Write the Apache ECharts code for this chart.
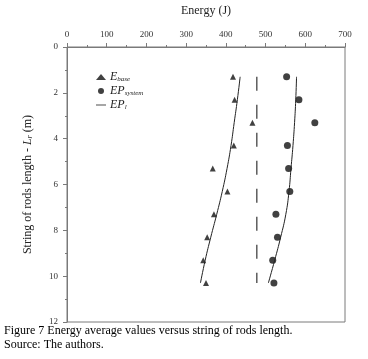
<!DOCTYPE html>
<html>
<head>
<meta charset="utf-8">
<script src="https://cdn.jsdelivr.net/npm/echarts@6/dist/echarts.min.js"></script>
<style>
  html, body { margin: 0; padding: 0; background: #fff; }
  #chart { width: 368px; height: 359px; }
</style>
</head>
<body>
<div id="chart"></div>
<script>
// string of rods length (m)
const depths = [1.3, 2.3, 3.3, 4.3, 5.3, 6.3, 7.3, 8.3, 9.3, 10.3]
// energy values (J)
const eBase = [418, 422, 467, 420, 367, 404, 370, 353, 343, 350]
const epSystem = [553, 584, 624, 555, 558, 561, 526, 530, 518, 521]
const epLBase = [436, 429, 421, 413, 403, 391, 377, 362, 348, 336]
const epLSystem = [578, 576, 573, 569, 564, 559, 551, 538, 523, 507]
const meanLine = 478
const xTicks = [0, 700, 100]
const yTicks = [0, 12, 2]

const serif = '"Liberation Serif", "Times New Roman", serif'
const axisGray = '#7a7a7a'

const pairs = (xs) => xs.map((v, i) => [v, depths[i]])

const chart = echarts.init(document.getElementById('chart'))
const option = {
  animation: false,
  grid: {
    left: 67,
    top: 43,
    right: 23,
    bottom: 37,
    show: true,
    borderColor: axisGray,
    borderWidth: 1
  },
  legend: {
    orient: 'vertical',
    left: 91,
    top: 66,
    itemWidth: 10,
    itemHeight: 6,
    itemGap: 2,
    selectedMode: false,
    data: [
      { name: 'E_base', icon: 'triangle' },
      { name: 'EP_system', icon: 'circle' },
      { name: 'EP_l', icon: 'path://M0,0 L20,0 L20,1.6 L0,1.6 Z' }
    ],
    formatter: (name) => {
      if (name === 'E_base') return '{m|E}{s|base}'
      if (name === 'EP_system') return '{m|EP}{s|system}'
      return '{m|EP}{s|l}'
    },
    textStyle: {
      padding: [0, 0, 0, -1],
      rich: {
        m: { fontFamily: serif, fontStyle: 'italic', fontSize: 12, color: '#222', lineHeight: 13 },
        s: { fontFamily: serif, fontStyle: 'italic', fontSize: 7, color: '#222', lineHeight: 13, padding: [5, 0, 0, 0] }
      }
    }
  },
  xAxis: {
    type: 'value',
    position: 'top',
    min: xTicks[0],
    max: xTicks[1],
    interval: xTicks[2],
    name: 'Energy (J)',
    nameLocation: 'middle',
    nameGap: 30,
    nameTextStyle: { fontFamily: serif, fontSize: 12, color: '#222' },
    axisLine: { lineStyle: { color: axisGray, width: 1 } },
    axisTick: { length: 4, lineStyle: { color: axisGray } },
    minorTick: { show: true, splitNumber: 2, length: 2, lineStyle: { color: axisGray } },
    splitLine: { show: false },
    axisLabel: { fontFamily: serif, fontSize: 9, color: '#333', margin: 8 }
  },
  yAxis: {
    type: 'value',
    inverse: true,
    min: yTicks[0],
    max: yTicks[1],
    interval: yTicks[2],
    name: '{n|String of rods length - }{i|L}{s|r}{n| (m)}',
    nameLocation: 'middle',
    nameRotate: 90,
    nameGap: 33,
    nameTextStyle: {
      rich: {
        n: { fontFamily: serif, fontSize: 12, color: '#222' },
        i: { fontFamily: serif, fontSize: 12, fontStyle: 'italic', color: '#222' },
        s: { fontFamily: serif, fontSize: 8, fontStyle: 'italic', color: '#222', padding: [5, 0, 0, 0] }
      }
    },
    axisLine: { lineStyle: { color: axisGray, width: 1 } },
    axisTick: { length: 4, lineStyle: { color: axisGray } },
    minorTick: { show: true, splitNumber: 2, length: 2, lineStyle: { color: axisGray } },
    splitLine: { show: false },
    axisLabel: { fontFamily: serif, fontSize: 9, color: '#333', margin: 9 }
  },
  series: [
    {
      name: 'E_base',
      type: 'scatter',
      symbol: 'triangle',
      symbolSize: 6,
      itemStyle: { color: '#111' },
      data: pairs(eBase)
    },
    {
      name: 'EP_system',
      type: 'scatter',
      symbol: 'circle',
      symbolSize: 7,
      itemStyle: { color: '#111' },
      data: pairs(epSystem)
    },
    {
      name: 'EP_l',
      type: 'line',
      smooth: true,
      showSymbol: false,
      lineStyle: { color: '#222', width: 1 },
      itemStyle: { color: '#222' },
      data: pairs(epLBase)
    },
    {
      name: 'EP_l',
      type: 'line',
      smooth: true,
      showSymbol: false,
      lineStyle: { color: '#222', width: 1 },
      itemStyle: { color: '#222' },
      data: pairs(epLSystem)
    },
    {
      name: 'mean',
      type: 'line',
      showSymbol: false,
      lineStyle: { color: '#333', width: 1.2, type: [14, 14] },
      data: [[meanLine, depths[0]], [meanLine, depths[depths.length - 1]]]
    }
  ],
  graphic: [
    {
      type: 'text',
      left: 4,
      top: 325,
      style: {
        text: 'Figure 7 Energy average values versus string of rods length.',
        fontFamily: serif,
        fontSize: 12,
        fill: '#000'
      }
    },
    {
      type: 'text',
      left: 4,
      top: 339,
      style: {
        text: 'Source: The authors.',
        fontFamily: serif,
        fontSize: 12,
        fill: '#000'
      }
    }
  ]
}
chart.setOption(option)
</script>
</body>
</html>
